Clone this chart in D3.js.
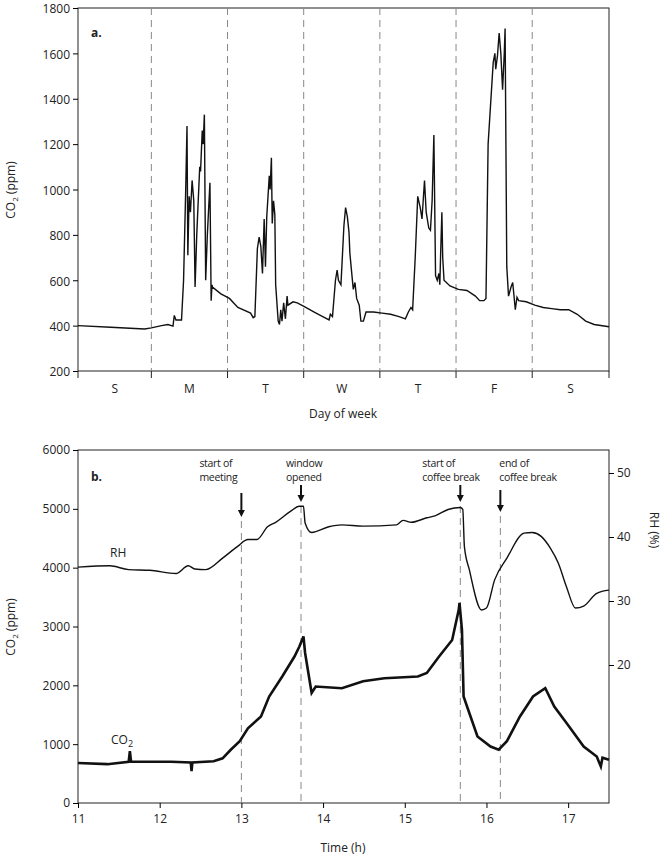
<!DOCTYPE html>
<html><head><meta charset="utf-8">
<script src="https://cdn.jsdelivr.net/npm/d3@7"></script>
<style>body{margin:0;background:#fff}text{font-family:"Open Sans",sans-serif;fill:#222}</style>
</head><body><svg id="c" width="664" height="860"></svg>
<script>
// Panel a: weekly CO2 (time in days from start of window)
const weekT=[0,0.429,0.874,0.963,1.097,1.180,1.247,1.264,1.286,1.359,1.386,1.414,1.431,1.442,1.459,1.476,1.498,1.520,1.537,1.559,1.598,1.609,1.631,1.643,1.659,1.676,1.698,1.732,1.748,1.759,1.765,1.876,1.988,2.099,2.266,2.300,2.322,2.355,2.378,2.400,2.422,2.444,2.461,2.478,2.511,2.522,2.539,2.550,2.567,2.584,2.595,2.628,2.645,2.662,2.678,2.700,2.723,2.745,2.756,2.823,2.879,2.990,3.101,3.213,3.296,3.313,3.341,3.380,3.402,3.419,3.452,3.491,3.513,3.536,3.558,3.569,3.591,3.614,3.636,3.658,3.692,3.714,3.747,3.781,3.881,3.992,4.104,4.215,4.298,4.337,4.371,4.393,4.427,4.460,4.493,4.516,4.549,4.571,4.605,4.627,4.649,4.672,4.694,4.716,4.738,4.750,4.761,4.777,4.788,4.805,4.883,4.994,5.106,5.217,5.273,5.329,5.356,5.384,5.451,5.473,5.484,5.507,5.529,5.551,5.574,5.596,5.607,5.629,5.652,5.685,5.707,5.741,5.763,5.785,5.885,5.997,6.108,6.219,6.331,6.442,6.554,6.665,6.776,6.971];
const weekCO2=[400,393,385,390,400,405,398,445,425,425,600,1000,1280,710,970,900,1040,950,570,800,1100,1080,1260,1200,1330,600,800,1030,510,580,570,540,520,480,455,435,440,740,790,750,630,870,660,880,1060,1000,1140,850,950,890,580,420,405,470,420,500,430,530,490,505,500,480,460,440,425,450,440,600,645,600,580,840,920,880,810,720,640,560,590,520,490,420,420,460,460,455,450,440,430,460,480,470,700,970,920,870,1040,900,830,820,950,1240,620,600,630,580,720,900,700,600,575,560,555,530,510,510,520,1200,1560,1600,1530,1590,1690,1600,1440,1600,1710,660,530,570,590,470,525,510,505,490,480,475,470,470,450,420,405,395];
const dayLabels=["S","M","T","W","T","F","S"];
const dayBounds=[0,0.963,1.963,2.963,3.963,4.963,5.963,6.971];
const weekTicks=[200,400,600,800,1000,1200,1400,1600,1800];

// Panel b: meeting day
const rhT=[11,11.39,11.62,11.88,12.20,12.35,12.43,12.56,12.77,12.95,13.08,13.19,13.32,13.42,13.60,13.71,13.76,13.78,13.86,14.07,14.23,14.49,14.90,14.98,15.08,15.27,15.37,15.53,15.68,15.71,15.73,15.79,15.94,16.00,16.10,16.25,16.46,16.56,16.67,16.78,16.88,16.98,17.09,17.19,17.35,17.50];
const rhV=[35.3,35.5,34.9,34.8,34.3,35.5,35.0,34.9,36.7,38.5,39.6,39.6,41.6,42.3,44.0,44.8,44.8,42.2,40.7,41.6,41.9,41.7,41.9,42.6,42.3,43.0,43.3,44.3,44.6,44.3,38.5,34.9,28.6,28.9,33.3,36.7,40.6,40.7,40.1,38.3,35.9,32.2,28.9,29.2,31.2,31.7];
const co2T=[11,11.36,11.62,11.635,11.65,12.14,12.38,12.39,12.40,12.66,12.77,12.87,12.98,13.08,13.24,13.34,13.50,13.65,13.71,13.76,13.78,13.84,13.86,13.91,14.23,14.49,14.75,15.16,15.27,15.42,15.58,15.66,15.67,15.70,15.72,15.79,15.89,16.05,16.15,16.25,16.41,16.57,16.72,16.83,16.98,17.19,17.35,17.40,17.42,17.50];
const co2V=[680,660,700,880,700,700,690,540,690,710,760,905,1050,1270,1470,1810,2150,2490,2660,2830,2550,2040,1870,1980,1950,2070,2120,2150,2210,2490,2770,3280,3400,2940,1810,1530,1130,960,905,1050,1470,1810,1950,1640,1360,960,790,620,770,735];
const eventTimes=[13.0,13.73,15.68,16.17];
const eventLabels=[["start of","meeting"],["window","opened"],["start of","coffee break"],["end of","coffee break"]];
const co2Ticks=[0,1000,2000,3000,4000,5000,6000];
const rhTicks=[20,30,40,50];
const hourTicks=[11,12,13,14,15,16,17];

// layout (not data)
const arrowTip=[517,502,502,512], arrowLen=[24,17,17,22], labelDx=[-42,-15,-38,-1];

const svg=d3.select("#c");
const L=78,R=609;
// ---- panel a
const xa=d3.scaleLinear().domain([0,6.971]).range([L,R]);
const ya=d3.scaleLinear().domain([200,1800]).range([371,8]);
const ga=svg.append("g");
ga.append("rect").attr("x",L).attr("y",8).attr("width",R-L).attr("height",363).attr("fill","none").attr("stroke","#222").attr("stroke-width",1);
ga.append("g").attr("transform",`translate(${L},0)`).call(d3.axisLeft(ya).tickValues(weekTicks).tickSize(5).tickFormat(d3.format("d")))
 .call(g=>{g.select(".domain").remove();g.selectAll("text").style("font-size","12px").attr("dy","0.4em");});
ga.selectAll(".db").data(dayBounds.slice(1,-1)).join("line").attr("x1",d=>xa(d)).attr("x2",d=>xa(d)).attr("y1",8).attr("y2",371).attr("stroke","#888").attr("stroke-dasharray","7,5");
ga.selectAll(".dt").data(dayBounds).join("line").attr("x1",d=>xa(d)).attr("x2",d=>xa(d)).attr("y1",371).attr("y2",378).attr("stroke","#222");
ga.selectAll(".dl").data(dayLabels).join("text").attr("x",(d,i)=>xa((dayBounds[i]+dayBounds[i+1])/2)).attr("y",393).attr("text-anchor","middle").style("font-size","12px").text(d=>d);
ga.append("path").datum(weekT.map((t,i)=>[t,weekCO2[i]])).attr("d",d3.line().x(d=>xa(d[0])).y(d=>ya(d[1]))).attr("fill","none").attr("stroke","#111").attr("stroke-width",1.4);
ga.append("text").attr("x",91).attr("y",37).style("font-size","12px").style("font-weight","bold").text("a.");
ga.append("text").attr("x",343).attr("y",418).attr("text-anchor","middle").style("font-size","12px").text("Day of week");
ga.append("text").attr("transform","translate(15,190) rotate(-90)").attr("text-anchor","middle").style("font-size","12px").html('CO<tspan font-size="8" dy="3">2</tspan><tspan dy="-3"> (ppm)</tspan>');
// ---- panel b
const xb=d3.scaleLinear().domain([11,17.5]).range([L,R]);
const yb=d3.scaleLinear().domain([0,6000]).range([803,450]);
const yr=d3.scaleLinear().domain([20,50]).range([665,473]);
const gb=svg.append("g");
gb.append("rect").attr("x",L).attr("y",450).attr("width",R-L).attr("height",353).attr("fill","none").attr("stroke","#222");
gb.append("g").attr("transform",`translate(${L},0)`).call(d3.axisLeft(yb).tickValues(co2Ticks).tickSize(5).tickFormat(d3.format("d")))
 .call(g=>{g.select(".domain").remove();g.selectAll("text").style("font-size","12px");});
gb.append("g").attr("transform",`translate(${R},0)`).call(d3.axisRight(yr).tickValues(rhTicks).tickSize(5))
 .call(g=>{g.select(".domain").remove();g.selectAll("text").style("font-size","12px");});
gb.append("g").attr("transform",`translate(0,803)`).call(d3.axisBottom(xb).tickValues(hourTicks).tickSize(5).tickFormat(d3.format("d")))
 .call(g=>{g.select(".domain").remove();g.selectAll("text").style("font-size","12px").attr("dy","1em");});
eventTimes.forEach((t,k)=>{
  const x=xb(t), tip=arrowTip[k], len=arrowLen[k];
  gb.append("line").attr("x1",x).attr("x2",x).attr("y1",tip+4).attr("y2",803).attr("stroke","#888").attr("stroke-dasharray","7,5");
  gb.append("line").attr("x1",x).attr("x2",x).attr("y1",tip-len).attr("y2",tip-5).attr("stroke","#111").attr("stroke-width",2);
  gb.append("path").attr("d",`M${x-3.5},${tip-7}L${x+3.5},${tip-7}L${x},${tip}Z`).attr("fill","#111");
  eventLabels[k].forEach((s,i)=>gb.append("text").attr("x",x+labelDx[k]).attr("y",467+i*14).style("font-size","10.5px").style("letter-spacing","-0.3px").text(s));
});
gb.append("path").datum(rhT.map((t,i)=>[t,rhV[i]])).attr("d",d3.line().curve(d3.curveMonotoneX).x(d=>xb(d[0])).y(d=>yr(d[1]))).attr("fill","none").attr("stroke","#111").attr("stroke-width",1.4);
gb.append("path").datum(co2T.map((t,i)=>[t,co2V[i]])).attr("d",d3.line().x(d=>xb(d[0])).y(d=>yb(d[1]))).attr("fill","none").attr("stroke","#111").attr("stroke-width",2.6);
gb.append("text").attr("x",91).attr("y",481).style("font-size","12px").style("font-weight","bold").text("b.");
gb.append("text").attr("x",110).attr("y",557).style("font-size","12px").text("RH");
gb.append("text").attr("x",111).attr("y",744).style("font-size","12px").html('CO<tspan font-size="9" dy="3">2</tspan>');
gb.append("text").attr("x",343).attr("y",852).attr("text-anchor","middle").style("font-size","12px").text("Time (h)");
gb.append("text").attr("transform","translate(15,627) rotate(-90)").attr("text-anchor","middle").style("font-size","12px").html('CO<tspan font-size="8" dy="3">2</tspan><tspan dy="-3"> (ppm)</tspan>');
gb.append("text").attr("transform","translate(650,530) rotate(90)").attr("text-anchor","middle").style("font-size","12px").text("RH (%)");
</script></body></html>
